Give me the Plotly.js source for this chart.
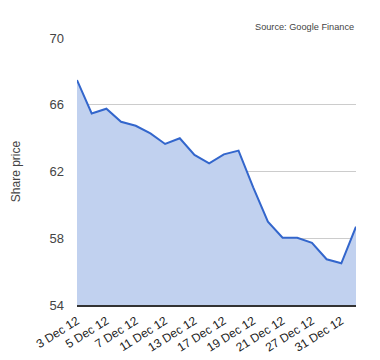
<!DOCTYPE html>
<html>
<head>
<meta charset="utf-8">
<script src="https://cdn.plot.ly/plotly-3.0.1.min.js"></script>
<style>html,body{margin:0;padding:0;background:#fff;}#chart{width:380px;height:360px;}</style>
</head>
<body>
<div id="chart"></div>
<script>
var dates = ["3 Dec 12","4 Dec 12","5 Dec 12","6 Dec 12","7 Dec 12","10 Dec 12","11 Dec 12","12 Dec 12","13 Dec 12","14 Dec 12","17 Dec 12","18 Dec 12","19 Dec 12","20 Dec 12","21 Dec 12","24 Dec 12","27 Dec 12","28 Dec 12","31 Dec 12","2 Jan 13"];
var prices = [67.48, 65.48, 65.76, 64.98, 64.74, 64.28, 63.65, 63.99, 62.99, 62.49, 63.03, 63.25, 61.05, 58.99, 58.03, 58.03, 57.73, 56.74, 56.50, 58.69];
var tickLabels = ["3 Dec 12","5 Dec 12","7 Dec 12","11 Dec 12","13 Dec 12","17 Dec 12","19 Dec 12","21 Dec 12","27 Dec 12","31 Dec 12"];
var yTicks = [54, 58, 62, 66, 70];

var trace = {
  x: dates, y: prices, type: 'scatter', mode: 'lines',
  line: {color: '#3366cc', width: 2},
  fill: 'tozeroy', fillcolor: '#c1d1ef',
  hoverinfo: 'none'
};
var layout = {
  width: 380, height: 360,
  margin: {l: 77, r: 24, t: 38, b: 55},
  paper_bgcolor: '#fff', plot_bgcolor: '#fff',
  showlegend: false,
  font: {family: 'Arial, Liberation Sans, sans-serif', color: '#444', size: 12},
  xaxis: {
    type: 'category', tickmode: 'array', tickvals: tickLabels, ticktext: tickLabels,
    tickangle: -32, showgrid: false, zeroline: false,
    showline: true, linecolor: '#333', linewidth: 1.5,
    ticks: '', tickfont: {size: 12, color: '#222'},
    range: [0, dates.length - 1], ticklabelstandoff: 3
  },
  yaxis: {
    range: [54, 70], tickmode: 'array', tickvals: yTicks,
    showgrid: true, gridcolor: '#ccc', gridwidth: 1, zeroline: false,
    showline: false, ticks: '', tickfont: {size: 13, color: '#444'},
    ticklabelstandoff: 12,
    title: {text: 'Share price', font: {size: 12, color: '#444'}, standoff: 26}
  },
  annotations: [{
    text: 'Source: Google Finance', xref: 'paper', yref: 'paper',
    x: 1, y: 1, xanchor: 'right', yanchor: 'bottom', yshift: 4,
    showarrow: false, font: {size: 9.2, color: '#444'}
  }]
};
Plotly.newPlot('chart', [trace], layout, {displayModeBar: false, staticPlot: true});
</script>
</body>
</html>
